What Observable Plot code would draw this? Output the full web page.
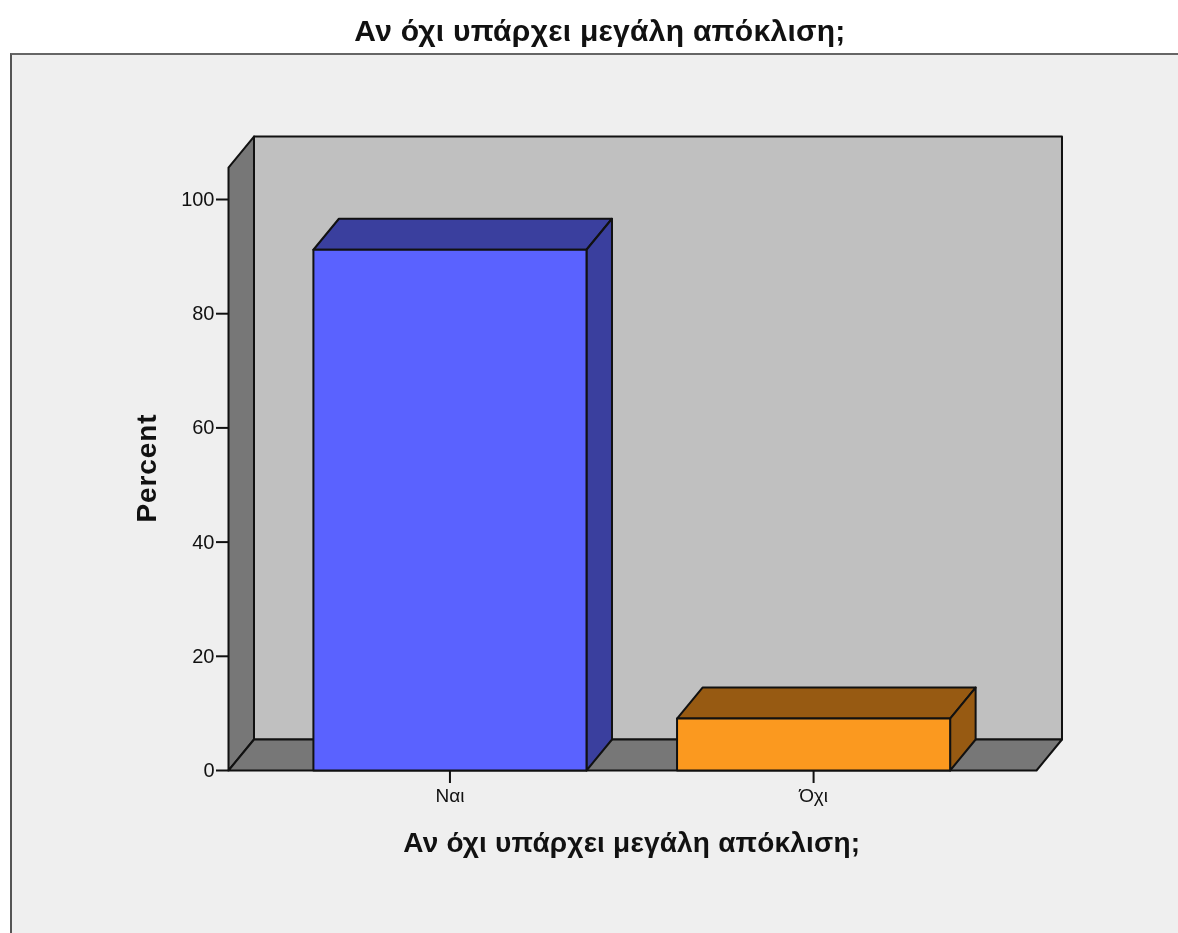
<!DOCTYPE html>
<html><head><meta charset="utf-8">
<script src="https://cdn.jsdelivr.net/npm/d3@7"></script>
<script src="https://cdn.jsdelivr.net/npm/@observablehq/plot@0.6"></script>
<style>
html,body{margin:0;padding:0;background:#fff;width:1178px;height:933px;overflow:hidden;font-family:"Liberation Sans",Arial,sans-serif}
#title{position:absolute;left:0;top:13px;width:1200px;text-align:center;font-weight:bold;font-size:30px;line-height:36px;color:#111;letter-spacing:0.27px;filter:blur(0.4px)}
#frame{position:absolute;left:10px;top:53px;width:1180px;height:900px;background:#efefef;border-top:2px solid #666;border-left:2px solid #555;box-sizing:border-box}
#chart{position:absolute;left:0;top:54px;filter:blur(0.4px)}
#chart svg{background:transparent;display:block}
</style></head><body>
<div id="frame"></div>
<div id="title">Αν όχι υπάρχει μεγάλη απόκλιση;</div>
<div id="chart"></div>
<script>
const categories = ["Ναι", "Όχι"];
const percents = [91.2, 9.1];
const yTicks = [0, 20, 40, 60, 80, 100];
const axisTitleX = "Αν όχι υπάρχει μεγάλη απόκλιση;";
const axisTitleY = "Percent";
const frontColors = ["#5a62ff", "#fb991f"];
const darkColors = ["#3a3f9e", "#975a12"];

const barW = 0.751, dX = 0.0701, dY = 5.43;
const xMin = -0.609, xMax = 1.613, yWall = 105.6;
const ink = "#111";

function face(pts, fill) {
  const closed = [...pts, pts[0]].map(([x, y]) => ({x, y}));
  return Plot.line(closed, {x: "x", y: "y", fill, stroke: ink, strokeWidth: 2, strokeLinejoin: "round"});
}
const box = (i) => {
  const l = i - barW / 2, r = i + barW / 2, v = percents[i];
  return [
    face([[l, v], [l + dX, v + dY], [r + dX, v + dY], [r, v]], darkColors[i]),
    face([[r, 0], [r + dX, dY], [r + dX, v + dY], [r, v]], darkColors[i]),
    face([[l, 0], [r, 0], [r, v], [l, v]], frontColors[i])
  ];
};

const plot = Plot.plot({
  width: 1178, height: 879,
  marginLeft: 228, marginRight: 142, marginTop: 145, marginBottom: 163,
  style: {background: "transparent", fontFamily: "Liberation Sans, Arial, sans-serif", color: ink},
  x: {type: "linear", domain: [xMin, xMax]},
  y: {type: "linear", domain: [0, 100]},
  marks: [
    face([[xMin + dX, dY], [xMax + dX, dY], [xMax + dX, yWall + dY], [xMin + dX, yWall + dY]], "#c0c0c0"),
    face([[xMin, 0], [xMin + dX, dY], [xMin + dX, yWall + dY], [xMin, yWall]], "#777777"),
    face([[xMin, 0], [xMax, 0], [xMax + dX, dY], [xMin + dX, dY]], "#777777"),
    ...categories.flatMap((c, i) => box(i)),
    Plot.axisY({ticks: yTicks, label: null, tickSize: 12, tickPadding: 2, fontSize: 20, strokeWidth: 2, stroke: ink, fill: ink}),
    Plot.axisX({ticks: [0, 1], tickFormat: (i) => categories[i], label: null, tickSize: 13, tickPadding: 5, fontSize: 19, strokeWidth: 2, stroke: ink, fill: ink}),
    Plot.text([axisTitleX], {x: () => 0.5, y: () => 0, text: (d) => d, dy: 73, fontSize: 28, fontWeight: "bold", fill: ink, lineAnchor: "middle"}),
    Plot.text([axisTitleY], {frameAnchor: "left", textAnchor: "middle", text: (d) => d, rotate: -90, dx: -81, dy: -17, fontSize: 28, fontWeight: "bold", fill: ink})
  ]
});
document.getElementById("chart").append(plot);
const labels = plot.querySelectorAll('g[aria-label="text"]');
labels[0].style.letterSpacing = "0.2px";
labels[1].style.letterSpacing = "0.9px";
</script></body></html>
